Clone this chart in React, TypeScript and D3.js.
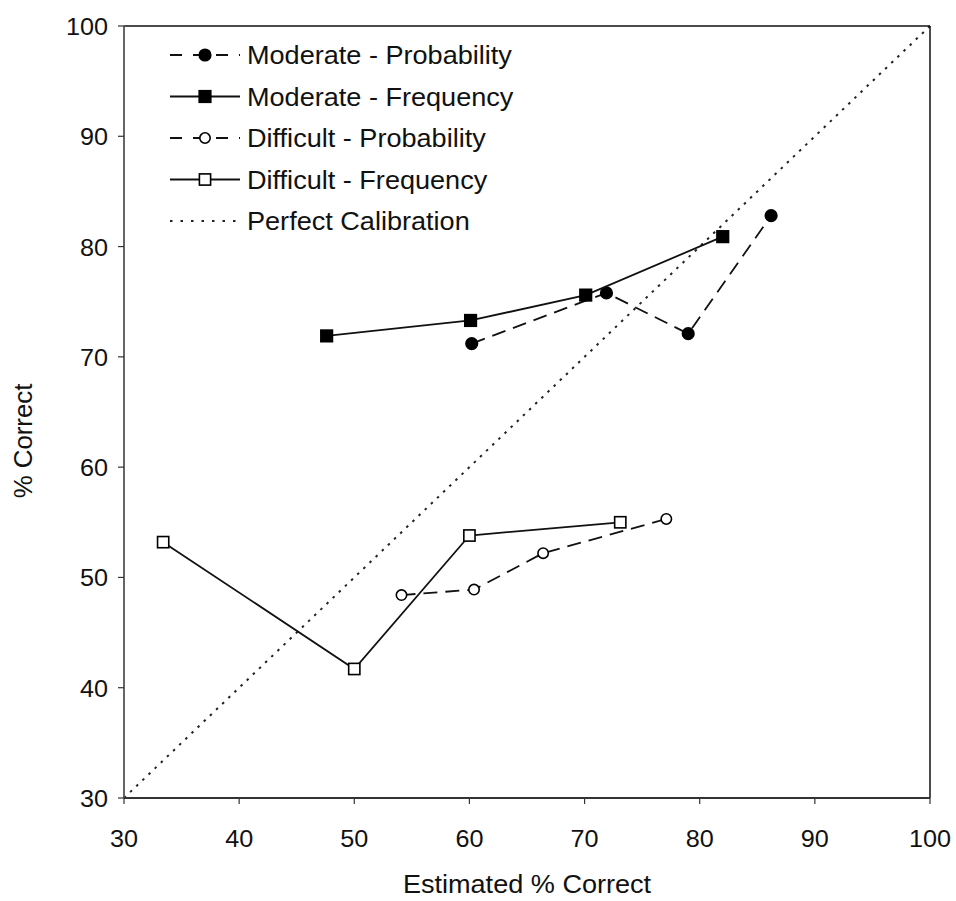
import React from "react";
import * as d3 from "d3";

const xTicks = [30, 40, 50, 60, 70, 80, 90, 100];
const yTicks = [30, 40, 50, 60, 70, 80, 90, 100];

const modProbX = [60.2, 71.9, 79.0, 86.2];
const modProbY = [71.2, 75.8, 72.1, 82.8];
const modFreqX = [47.6, 60.1, 70.1, 82.0];
const modFreqY = [71.9, 73.3, 75.6, 80.9];
const diffProbX = [54.1, 60.4, 66.4, 77.1];
const diffProbY = [48.4, 48.9, 52.2, 55.3];
const diffFreqX = [33.4, 50.0, 60.0, 73.1];
const diffFreqY = [53.2, 41.7, 53.8, 55.0];

const legendLabels = [
  "Moderate - Probability",
  "Moderate - Frequency",
  "Difficult - Probability",
  "Difficult - Frequency",
  "Perfect Calibration",
];

const W = 956;
const H = 901;
const L = 124, R = 930, T = 26, B = 798;
const FONT = "'Liberation Sans', Arial, sans-serif";
const FS_TICK = 24;
const FS_TEXT = 25.8;
const SX = 1.05;

type S = { xs: number[]; ys: number[]; dashed: boolean; marker: "circle" | "square"; filled: boolean };

const series: S[] = [
  { xs: modProbX, ys: modProbY, dashed: true, marker: "circle", filled: true },
  { xs: modFreqX, ys: modFreqY, dashed: false, marker: "square", filled: true },
  { xs: diffProbX, ys: diffProbY, dashed: true, marker: "circle", filled: false },
  { xs: diffFreqX, ys: diffFreqY, dashed: false, marker: "square", filled: false },
];

function Marker({ x, y, s }: { x: number; y: number; s: S }) {
  const fill = s.filled ? "#000" : "#fff";
  if (s.marker === "circle") {
    return <circle cx={x} cy={y} r={s.filled ? 5.8 : 5.2} fill={fill} stroke="#000" strokeWidth={1.6} />;
  }
  const h = s.filled ? 5.8 : 5.6;
  return <rect x={x - h} y={y - h} width={2 * h} height={2 * h} fill={fill} stroke="#000" strokeWidth={1.6} />;
}

function T2({ x, y, anchor, fs, children }: { x: number; y: number; anchor: string; fs: number; children: React.ReactNode }) {
  return (
    <text transform={`translate(${x},${y}) scale(${SX},1)`} textAnchor={anchor} fontSize={fs} fill="#111">
      {children}
    </text>
  );
}

export default function App() {
  const x = d3.scaleLinear().domain([30, 100]).range([L, R]);
  const y = d3.scaleLinear().domain([30, 100]).range([B, T]);
  const line = d3.line<[number, number]>().x((d) => x(d[0])).y((d) => y(d[1]));

  const legX0 = 170, legX1 = 240, legTextX = 247;
  const legY = (i: number) => 55 + i * 41.5;

  return (
    <svg width={W} height={H} style={{ display: "block", position: "absolute", left: 0, top: 0 }} fontFamily={FONT}>
      <rect width={W} height={H} fill="#fff" />
      {/* perfect calibration */}
      <line x1={x(30)} y1={y(30)} x2={x(100)} y2={y(100)} stroke="#222" strokeWidth={2} strokeDasharray="2.5 6" />
      {/* frame */}
      <line x1={L} y1={T} x2={R} y2={T} stroke="#111" strokeWidth={1.5} />
      <line x1={R} y1={T} x2={R} y2={B} stroke="#111" strokeWidth={1.5} />
      <line x1={L} y1={T} x2={L} y2={B} stroke="#555" strokeWidth={1.8} />
      <line x1={L} y1={B} x2={R} y2={B} stroke="#333" strokeWidth={1.8} />
      {xTicks.map((t) => (
        <g key={"x" + t}>
          <line x1={x(t)} y1={B} x2={x(t)} y2={B + 6} stroke="#333" strokeWidth={1.2} />
          <T2 x={x(t)} y={847} anchor="middle" fs={FS_TICK}>{t}</T2>
        </g>
      ))}
      {yTicks.map((t) => (
        <g key={"y" + t}>
          <line x1={L - 6} y1={y(t)} x2={L} y2={y(t)} stroke="#333" strokeWidth={1.2} />
          <T2 x={108} y={y(t) + 9} anchor="end" fs={FS_TICK}>{t}</T2>
        </g>
      ))}
      <T2 x={527} y={893} anchor="middle" fs={FS_TEXT}>Estimated % Correct</T2>
      <text transform={`translate(32,${441}) rotate(-90)`} textAnchor="middle" fontSize={FS_TEXT} fill="#111">% Correct</text>

      {series.map((s, i) => {
        const pts: [number, number][] = s.xs.map((v, j) => [v, s.ys[j]]);
        return (
          <g key={"s" + i}>
            <path d={line(pts) || ""} fill="none" stroke="#111" strokeWidth={1.8} strokeDasharray={s.dashed ? "14 8" : undefined} />
            {pts.map((p, j) => (
              <Marker key={j} x={x(p[0])} y={y(p[1])} s={s} />
            ))}
          </g>
        );
      })}

      {/* legend */}
      {legendLabels.map((lab, i) => {
        const yy = legY(i);
        const s = series[i];
        return (
          <g key={"l" + i}>
            {i < 4 ? (
              <>
                <line x1={legX0} y1={yy} x2={legX1} y2={yy} stroke="#111" strokeWidth={1.8} strokeDasharray={s.dashed ? "12 11" : undefined} />
                <Marker x={(legX0 + legX1) / 2} y={yy} s={s} />
              </>
            ) : (
              <line x1={legX0} y1={yy} x2={legX1} y2={yy} stroke="#222" strokeWidth={2} strokeDasharray="2.5 8" />
            )}
            <T2 x={legTextX} y={yy + 9} anchor="start" fs={FS_TEXT}>{lab}</T2>
          </g>
        );
      })}
    </svg>
  );
}
